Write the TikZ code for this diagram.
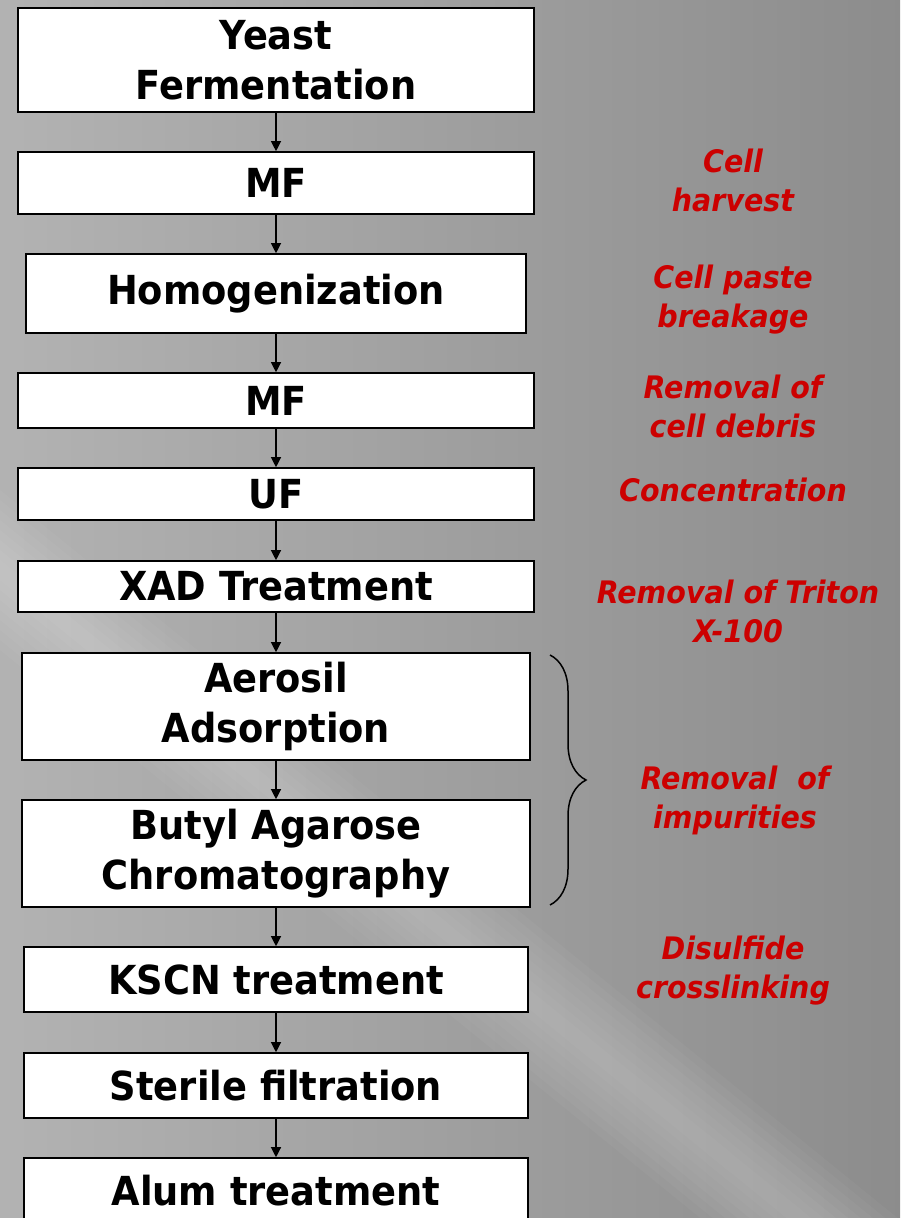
\documentclass[tikz,border=0pt]{standalone}
\usepackage{fontspec}
\usepackage{tikz}
\usetikzlibrary{arrows.meta,positioning,decorations.pathreplacing}
\newfontfamily\tahomalike[FakeStretch=0.92]{DejaVu Sans}
\definecolor{notered}{RGB}{204,0,0}
\tikzset{fontscale/.style = {font=\tahomalike\bfseries\fontsize{20}{25}\selectfont}}
\tikzstyle{stepbox}=[rectangle, draw=black, line width=0.8pt, fill=white, align=center, inner sep=0pt, fontscale]
\tikzstyle{note}=[rectangle, align=center, text=notered, font=\tahomalike\bfseries\itshape\fontsize{15.5}{19.5}\selectfont]

\begin{document}
\begin{tikzpicture}[x=0.5pt, y=-0.5pt, flow/.style={line width=0.6pt,-{Triangle[length=5pt,width=5pt]}}]

% background
\useasboundingbox (0,0) rectangle (900,1218);
\fill[left color=black!30, right color=black!45] (0,0) rectangle (900,1218);
\begin{scope}
  \clip (0,0) rectangle (900,1218);
  \foreach \w in {10,20,...,80}
    \fill[white, opacity=0.03] (0,570-\w) -- (900,1300-\w) -- (900,1300+\w) -- (0,570+\w) -- cycle;
\end{scope}

% process steps
\node[stepbox, minimum width=258pt, minimum height=52pt] (yeast) at (276,60) {Yeast\\Fermentation};
\node[stepbox, minimum width=258pt, minimum height=31pt] (mfa) at (276,183) {MF};
\node[stepbox, minimum width=250pt, minimum height=39.5pt] (homog) at (276,293.5) {Homogenization};
\node[stepbox, minimum width=258pt, minimum height=27.5pt] (mfb) at (276,400.5) {MF};
\node[stepbox, minimum width=258pt, minimum height=26pt] (uf) at (276,494) {UF};
\node[stepbox, minimum width=258pt, minimum height=25.5pt] (xad) at (276,586.5) {XAD Treatment};
\node[stepbox, minimum width=254pt, minimum height=53.5pt] (aero) at (276,706.5) {Aerosil\\Adsorption};
\node[stepbox, minimum width=254pt, minimum height=53.5pt] (butyl) at (276,853.5) {Butyl Agarose\\Chromatography};
\node[stepbox, minimum width=252pt, minimum height=32.5pt] (kscn) at (276,979.5) {KSCN treatment};
\node[stepbox, minimum width=252pt, minimum height=32.5pt] (steril) at (276,1085.5) {Sterile filtration};
\node[stepbox, minimum width=252pt, minimum height=32.5pt] (alum) at (276,1190.5) {Alum treatment};

 % links
  \path[flow] (yeast) edge (mfa);
  \path[flow] (mfa) edge (homog);
  \path[flow] (homog) edge (mfb);
  \path[flow] (mfb) edge (uf);
  \path[flow] (uf) edge (xad);
  \path[flow] (xad) edge (aero);
  \path[flow] (aero) edge (butyl);
  \path[flow] (butyl) edge (kscn);
  \path[flow] (kscn) edge (steril);
  \path[flow] (steril) edge (alum);

 % brace
  \coordinate (bt) at (550,655);
  \coordinate (bb) at (550,905);
  \draw[line width=0.75pt, decorate, decoration={brace, amplitude=18pt}] (bt) -- (bb);

 % notes
  \node[note] (harvest) at (733,180) {Cell\\harvest};
  \node[note] (breakage) at (733,300) {Cell paste\\breakage};
  \node[note] (debris) at (733,406) {Removal of\\cell debris};
  \node[note] (conc) at (733,490) {Concentration};
  \node[note] (triton) at (738,611) {Removal of Triton\\X-100};
  \node[note] (impur) at (735,800) {Removal\ \ of\\impurities};
  \node[note] (disulf) at (733,971) {Disulfide\\crosslinking};
\end{tikzpicture}
\end{document}
